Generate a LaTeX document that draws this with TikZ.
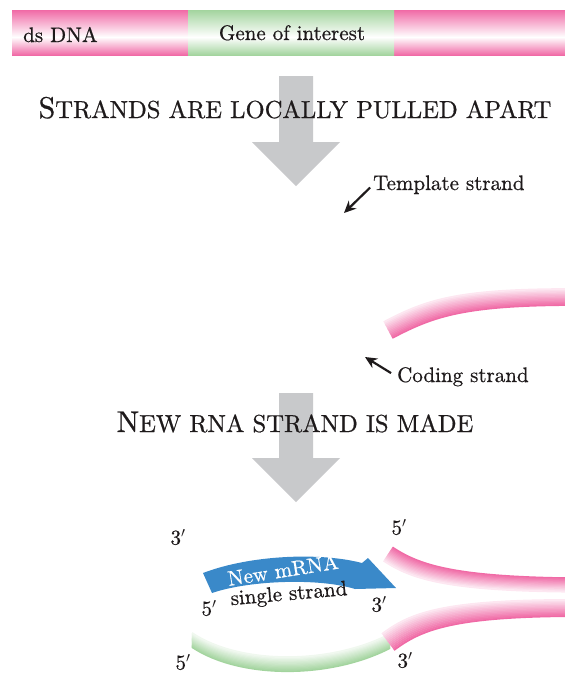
\documentclass[tikz,border=0pt]{standalone}
\usepackage{fontspec}
\setmainfont{lmroman10-regular.otf}[FakeBold=0.7]
\usepackage{tikz}
\usetikzlibrary{arrows.meta}

\definecolor{dnapink}{RGB}{240,106,166}
\definecolor{genegreen}{RGB}{163,212,158}
\definecolor{rnablue}{RGB}{58,137,201}
\definecolor{stepgray}{RGB}{200,201,203}
\definecolor{ink}{RGB}{30,26,27}

% double strand: dark edges, white seam a bit below the middle
\pgfdeclareverticalshading{pinkbar}{100bp}{color(0bp)=(dnapink); color(25bp)=(dnapink); color(45bp)=(white); color(75bp)=(dnapink); color(100bp)=(dnapink)}
\pgfdeclareverticalshading{greenbar}{100bp}{color(0bp)=(genegreen); color(25bp)=(genegreen); color(45bp)=(white); color(75bp)=(genegreen); color(100bp)=(genegreen)}

% one half strand as a stack of thin strokes
% #1 colour, #2/#3 unit normal from dark edge to pale edge, #4 half width, #5 centre line
\newcommand{\halfstrand}[5]{%
  \foreach \i in {0,...,12}{%
    \pgfmathsetmacro{\off}{#4*(\i/6-1)}%
    \pgfmathtruncatemacro{\pct}{100-7*\i}%
    \draw[line width=1.9pt,#1!\pct!white,shift={({#2*\off},{#3*\off})}] #5;
  }}

% small capitals for the headings
\newcommand{\smcap}[1]{{\fontsize{24.6}{29}\selectfont #1}}

\begin{document}
\begin{tikzpicture}[x=1pt,y=-1pt] % y runs downwards
\tikzstyle{every node}+=[inner sep=0pt]
\tikzstyle{lbl}=[font=\fontsize{21}{25}\selectfont, text=ink]
\tikzstyle{headline}=[font=\fontsize{30}{36}\selectfont, text=ink, anchor=base]
\tikzstyle{pointer}=[-{Stealth[length=12pt,width=11pt]}, line width=2.2pt, ink]
\useasboundingbox (0,0) rectangle (565,675);

% big grey step arrows (behind the headings)
\foreach \top/\neck in {76/142,393/458}
  \fill[stepgray] (279,\top) -- (313,\top) -- (313,\neck) -- (340,\neck)
    -- (296,{\neck+44}) -- (252,\neck) -- (279,\neck) -- cycle;

% ds DNA with the gene
\shade[shading=pinkbar] (12,10) rectangle (565,55);
\shade[shading=greenbar] (188,10) rectangle (394,55);
\node[lbl, anchor=base west] (dslbl) at (23,42) {ds DNA};
\node[lbl, anchor=base] (genelbl) at (292,40) {Gene of interest};

\node[headline] (pullhead) at (295,118) {S\smcap{TRANDS ARE LOCALLY PULLED APART}};

% opened region
\node[lbl, anchor=base west] (tmpl) at (373,190) {Template strand};
\coordinate (tmpltip) at (344,213);
\draw[pointer, shorten <=4pt] (tmpl.west) -- (tmpltip);

\halfstrand{dnapink}{-0.47}{-0.88}{9}{(388,330) .. controls (430,308) and (460,297) .. (575,297)}

\node[lbl, anchor=base west] (code) at (397,382) {Coding strand};
\coordinate (codetip) at (365,357);
\draw[pointer, shorten <=7pt] (code.west) -- (codetip);

\node[headline] (makehead) at (295,432) {N\smcap{EW RNA STRAND IS MADE}};

% transcription bubble
\halfstrand{dnapink}{-0.55}{0.83}{8}{(388,554) .. controls (415,572) and (450,584) .. (575,585)}
\halfstrand{genegreen}{0}{-1}{7}{(192,640) .. controls (240,672) and (330,672) .. (390,641)}
\halfstrand{dnapink}{-0.6}{-0.8}{10}{(388,642) .. controls (415,622) and (445,608) .. (575,608)}

% new mRNA
\fill[rnablue] (203,573) .. controls (250,555) and (320,552) .. (362,563) -- (368,558)
  -- (396,588) -- (355,589) .. controls (320,578) and (250,580) .. (212,593) -- cycle;
\node[lbl, text=white, rotate=9] (mrna) at (283,570) {New mRNA};
\node[lbl, rotate=5] (single) at (289,595) {single strand};

% strand ends
\node[lbl] (endA) at (178,537) {3$'$};
\node[lbl] (endB) at (399,527) {5$'$};
\node[lbl] (endC) at (209,608) {5$'$};
\node[lbl] (endD) at (379,604) {3$'$};
\node[lbl] (endE) at (183,662) {5$'$};
\node[lbl] (endF) at (405,660) {3$'$};
\end{tikzpicture}
\end{document}
